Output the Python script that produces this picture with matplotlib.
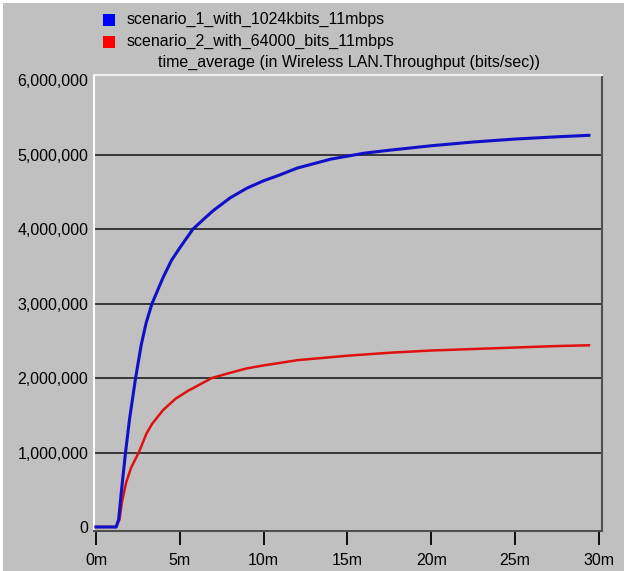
import matplotlib
matplotlib.use('Agg')
import matplotlib.pyplot as plt
from matplotlib.patches import Rectangle
from matplotlib.ticker import FuncFormatter

plt.rcParams['font.family'] = ['Liberation Sans', 'DejaVu Sans']

# Wireless LAN throughput, time average (minutes, bits/sec)
t_1 = [0, 1.2, 1.35, 1.5, 1.76, 2.0, 2.36, 2.7, 3.0, 3.34, 4.0, 4.5, 5.0, 5.78,
       6.5, 7.0, 8.0, 9.0, 10.0, 10.87, 12.0, 13.0, 14.0, 15.0, 16.0, 17.5,
       20.0, 22.5, 25.0, 27.5, 29.4]
thr_1 = [0, 0, 100000, 450000, 1000000, 1450000, 2000000, 2450000, 2750000,
         3000000, 3350000, 3580000, 3750000, 4000000, 4150000, 4250000, 4420000,
         4550000, 4650000, 4720000, 4820000, 4880000, 4940000, 4980000, 5020000,
         5060000, 5120000, 5170000, 5210000, 5240000, 5260000]

t_2 = [0, 1.2, 1.4, 1.56, 1.8, 2.1, 2.55, 3.0, 3.33, 4.0, 4.73, 5.5, 6.0, 6.9,
       8.0, 9.0, 10.0, 10.87, 12.0, 13.0, 15.0, 17.5, 20.0, 22.5, 25.0, 27.5, 29.4]
thr_2 = [0, 0, 100000, 350000, 600000, 800000, 1000000, 1250000, 1380000,
         1570000, 1720000, 1830000, 1890000, 2000000, 2070000, 2130000, 2170000,
         2200000, 2240000, 2260000, 2300000, 2340000, 2370000, 2390000, 2410000,
         2430000, 2440000]

names = ['scenario_1_with_1024kbits_11mbps', 'scenario_2_with_64000_bits_11mbps']
title = 'time_average (in Wireless LAN.Throughput (bits/sec))'
y_ticks = [0, 1000000, 2000000, 3000000, 4000000, 5000000, 6000000]
x_ticks = [0, 5, 10, 15, 20, 25, 30]

gray = '#c0c0c0'
fs = 11.5
W, H = 624, 571
fig = plt.figure(figsize=(W / 100, H / 100), dpi=100, facecolor='white')
fig.patches.append(Rectangle((3 / W, 0), 1 - 3 / W, 1 - 3 / H, transform=fig.transFigure,
                             facecolor=gray, edgecolor='none', zorder=-10))

ax = fig.add_axes([94 / W, 40 / H, 508 / W, 456 / H])
ax.set_facecolor(gray)

for y in y_ticks[1:-1]:
    ax.axhline(y, color='#202020', lw=1.2, zorder=1)

ax.plot(t_2, thr_2, color='#e01010', lw=1.8, zorder=3)
ax.plot(t_1, thr_1, color='#1010c8', lw=2.2, zorder=4)

ax.set_xlim(-0.12, 30.18)
ax.set_ylim(-54000, 6070000)
ax.set_xticks(x_ticks)
ax.set_xticklabels([f'{v}m' for v in x_ticks])
ax.set_yticks(y_ticks)
ax.yaxis.set_major_formatter(FuncFormatter(lambda v, p: f'{int(v):,}'))
ax.tick_params(axis='x', direction='out', length=10, width=1.3, color='black',
               pad=6, labelsize=fs)
ax.tick_params(axis='y', length=0, pad=4, labelsize=fs)

ax.spines['left'].set_color('#ffffff')
ax.spines['top'].set_color('#f0f0f0')
ax.spines['right'].set_color('#505050')
ax.spines['bottom'].set_color('#505050')
for s in ax.spines.values():
    s.set_linewidth(1.5)

# legend squares and labels above the plot
fig.patches.append(Rectangle((103 / W, 1 - 26 / H), 12 / W, 12 / H, transform=fig.transFigure,
                             facecolor='#0000ff', edgecolor='none'))
fig.patches.append(Rectangle((103 / W, 1 - 48 / H), 12 / W, 12 / H, transform=fig.transFigure,
                             facecolor='#ff0000', edgecolor='none'))
fig.text(127 / W, 1 - 19 / H, names[0], fontsize=fs, va='center', ha='left')
fig.text(127 / W, 1 - 41 / H, names[1], fontsize=fs, va='center', ha='left')
fig.text(349 / W, 1 - 62 / H, title, fontsize=fs, va='center', ha='center')

fig.savefig('out.png', dpi=100, facecolor='white')
